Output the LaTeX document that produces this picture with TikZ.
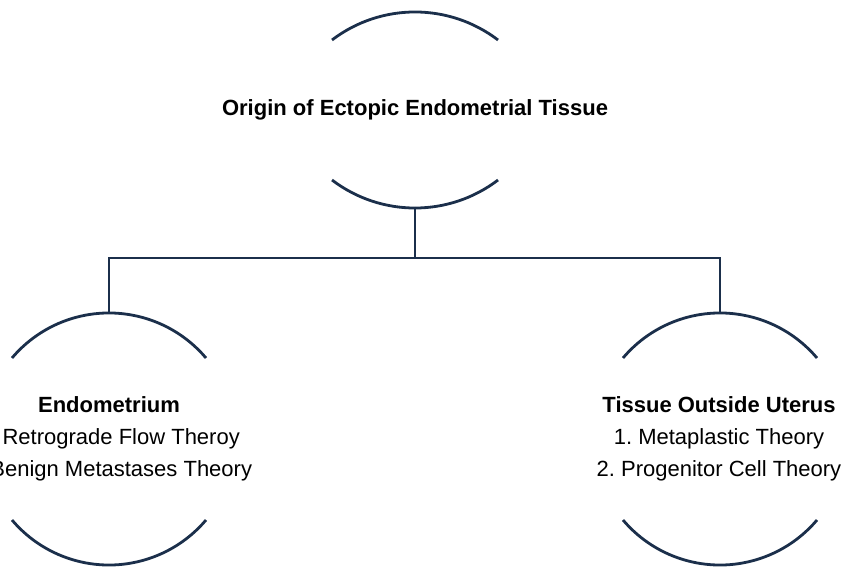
\documentclass[tikz,border=0pt]{standalone}
\usepackage{fontspec}
\setmainfont{Liberation Sans}
\definecolor{rimblue}{HTML}{1B2F4B}
\tikzset{
  rim/.style={draw=rimblue,line width=2.8pt},
  link/.style={draw=rimblue,line width=2.8pt},
  topic/.style={align=center,inner sep=0pt,text=black,font=\fontsize{22}{32}\selectfont}
}
\frenchspacing
\begin{document}
\begin{tikzpicture}[x=1pt,y=1pt]
  \useasboundingbox (0,0) rectangle (846,566);
  % nodes
  \node[topic] (origin) at (415,456) {\textbf{Origin of Ectopic Endometrial Tissue}};
  \node[topic] (endo) at (109,127) {\textbf{Endometrium}\\1. Retrograde Flow Theroy\\2. Benign Metastases Theory};
  \node[topic] (outside) at (719,127) {\textbf{Tissue Outside Uterus}\\1. Metaplastic Theory\\2. Progenitor Cell Theory};
  % arcs round the top node
  \draw[rim] (origin) ++(-83,70) arc[start angle=127.3,end angle=52.7,radius=137];
  \draw[rim] (origin) ++(-83,-70) arc[start angle=232.7,end angle=307.3,radius=137];
  \path (origin) ++(0,-97) coordinate (origin-b);
  % arcs round the lower nodes
  \foreach \n/\x in {endo/109,outside/720}{
    \draw[rim] (\x-97,208) arc[start angle=139.8,end angle=40.2,radius=127];
    \draw[rim] (\x-97,46) arc[start angle=220.2,end angle=319.8,radius=127];
    \coordinate (\n-t) at (\x,253);
  }
  % connectors
  \coordinate (bus) at (415,308);
  \draw[link] (origin-b) -- (bus) -| (endo-t);
  \draw[link] (bus) -| (outside-t);
\end{tikzpicture}
\end{document}
